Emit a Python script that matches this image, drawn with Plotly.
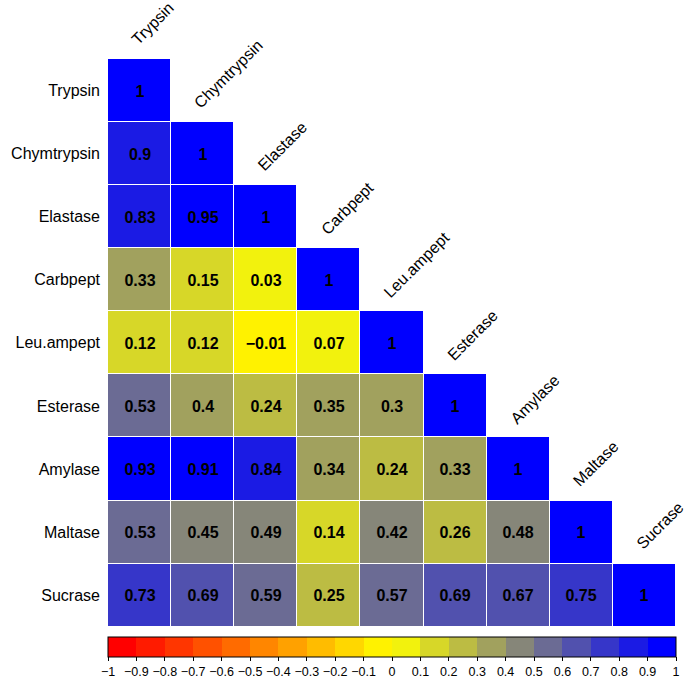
import numpy as np
import plotly.graph_objects as go

# Enzyme activity correlation matrix (lower triangle)
enzymes = ["Trypsin", "Chymtrypsin", "Elastase", "Carbpept", "Leu.ampept",
           "Esterase", "Amylase", "Maltase", "Sucrase"]

row_trypsin = [1]
row_chymtrypsin = [0.9, 1]
row_elastase = [0.83, 0.95, 1]
row_carbpept = [0.33, 0.15, 0.03, 1]
row_leuampept = [0.12, 0.12, -0.01, 0.07, 1]
row_esterase = [0.53, 0.4, 0.24, 0.35, 0.302, 1]
row_amylase = [0.93, 0.91, 0.84, 0.34, 0.24, 0.33, 1]
row_maltase = [0.53, 0.45, 0.49, 0.14, 0.42, 0.26, 0.48, 1]
row_sucrase = [0.73, 0.69, 0.59, 0.25, 0.57, 0.69, 0.67, 0.75, 1]

rows = [row_trypsin, row_chymtrypsin, row_elastase, row_carbpept, row_leuampept,
        row_esterase, row_amylase, row_maltase, row_sucrase]

cbar_ticks = [round(-1 + 0.1 * k, 1) for k in range(21)]

n = len(enzymes)
N_BINS = 20
FONT = "Liberation Sans, Arial, sans-serif"


def ramp(t):
    """red -> yellow -> blue linear ramp, t in [0, 1]"""
    if t <= 0.5:
        f = t / 0.5
        return (255, 255 * f, 0)
    f = (t - 0.5) / 0.5
    return (255 * (1 - f), 255 * (1 - f), 255 * f)


palette = []
for i in range(N_BINS):
    r, g, b = ramp(i / (N_BINS - 1))
    palette.append("rgb(%d,%d,%d)" % (round(r), round(g), round(b)))

colorscale = []
for i, c in enumerate(palette):
    colorscale.append([i / N_BINS, c])
    colorscale.append([(i + 1) / N_BINS, c])


def bin_index(v):
    # right-closed bins of width 0.1 on [-1, 1]
    k = int(np.ceil(round((v + 1) * 10, 6))) - 1
    return min(max(k, 0), N_BINS - 1)


def fmt(v):
    s = ("%.2f" % v).rstrip("0").rstrip(".")
    return s.replace("-", "\u2212")


z = np.full((n, n), np.nan)
text = [["" for _ in range(n)] for _ in range(n)]
for i, row in enumerate(rows):
    for j, v in enumerate(row):
        z[i, j] = -1 + 0.1 * (bin_index(v) + 0.5)
        text[i][j] = "<b>%s</b>" % fmt(v)

MARGIN_T, MARGIN_B = 59, 51
plot_h = 682 - MARGIN_T - MARGIN_B

fig = go.Figure(go.Heatmap(
    z=z,
    x=enzymes,
    y=enzymes,
    text=text,
    texttemplate="%{text}",
    textfont=dict(family=FONT, size=16, color="black"),
    colorscale=colorscale,
    zmin=-1,
    zmax=1,
    xgap=1,
    ygap=1,
    hoverongaps=False,
    colorbar=dict(
        orientation="h",
        x=0.5,
        xanchor="center",
        y=-6 / plot_h,
        yanchor="top",
        yref="paper",
        len=1.0,
        lenmode="fraction",
        thickness=20,
        thicknessmode="pixels",
        xpad=0,
        ypad=0,
        outlinewidth=1,
        outlinecolor="black",
        ticks="outside",
        ticklen=4,
        tickcolor="black",
        tickvals=cbar_ticks,
        ticktext=[fmt(t) if t != 0 else "0" for t in cbar_ticks],
        tickfont=dict(family=FONT, size=12.5, color="black"),
    ),
))

annotations = []
for j, name in enumerate(enzymes):
    annotations.append(dict(
        x=j, y=j - 0.5,
        xref="x", yref="y",
        text=name,
        showarrow=False,
        textangle=-45,
        xanchor="left",
        yanchor="bottom",
        xshift=-14,
        yshift=8,
        font=dict(family=FONT, size=16, color="black"),
    ))

fig.update_layout(
    width=687,
    height=682,
    margin=dict(l=108, r=11, t=MARGIN_T, b=MARGIN_B, autoexpand=False),
    paper_bgcolor="white",
    plot_bgcolor="white",
    annotations=annotations,
    xaxis=dict(showticklabels=False, showgrid=False, zeroline=False, ticks="",
               range=[-0.5, n - 0.5], fixedrange=True),
    yaxis=dict(autorange="reversed", showgrid=False, zeroline=False, ticks="",
               ticklabelstandoff=7,
               tickfont=dict(family=FONT, size=16, color="black")),
)

fig.write_html("out.html")
